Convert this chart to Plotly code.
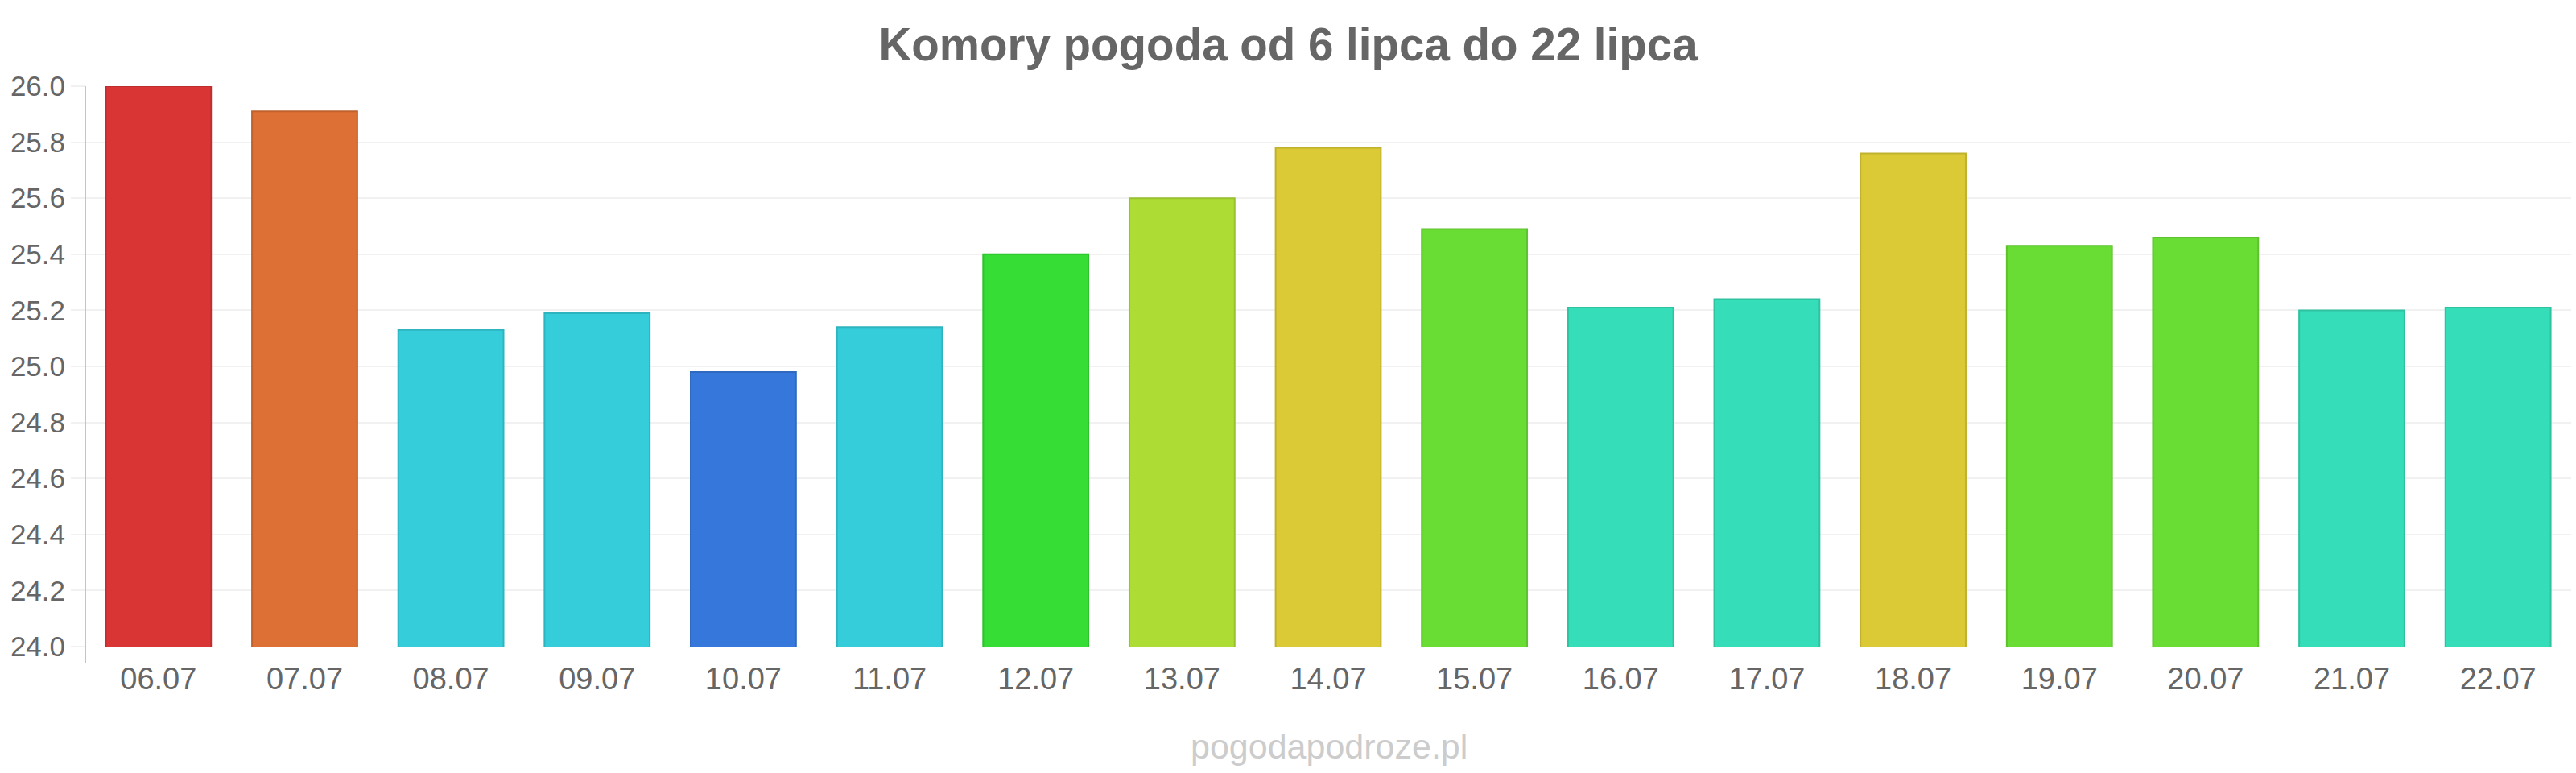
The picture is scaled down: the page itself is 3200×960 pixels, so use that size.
import plotly.graph_objects as go

# ---- data ----
dates = ["06.07", "07.07", "08.07", "09.07", "10.07", "11.07", "12.07", "13.07", "14.07",
         "15.07", "16.07", "17.07", "18.07", "19.07", "20.07", "21.07", "22.07"]
temps = [26.0, 25.91, 25.13, 25.19, 24.98, 25.14, 25.40, 25.60, 25.78,
         25.49, 25.21, 25.24, 25.76, 25.43, 25.46, 25.20, 25.21]
title_text = "Komory pogoda od 6 lipca do 22 lipca"
watermark = "pogodapodroze.pl"
y_range = [24.0, 26.0]

# ---- styles ----
fill_colors = ["#DA3535", "#DC7035", "#35CDDA", "#35CDDA", "#3677DC", "#35CDDA", "#35DD35",
               "#ADDC35", "#DBCA35", "#6ADD35", "#35DDB8", "#35DDB8", "#DBCA35", "#6ADD35",
               "#6ADD35", "#35DDB8", "#35DDB8"]


def darker(hex_color, f=0.88):
    h = hex_color.lstrip("#")
    r, g, b = (int(h[i:i + 2], 16) for i in (0, 2, 4))
    return "#%02x%02x%02x" % (int(r * f), int(g * f), int(b * f))


line_colors = [darker(c) for c in fill_colors]
FONT = "Liberation Sans, Arial, Helvetica, sans-serif"
TXT = "#666666"
GRID = "#f1f1f1"

L, R, T, B = 106, 6, 107, 157
PW = 3200 - L - R
PH = 960 - T - B

fig = go.Figure(
    go.Bar(
        x=dates,
        y=temps,
        marker=dict(color=fill_colors, line=dict(color=line_colors, width=2)),
        hovertemplate="%{x}: %{y:.1f}<extra></extra>",
    )
)

fig.update_layout(
    width=3200,
    height=960,
    margin=dict(l=L, r=R, t=T, b=B),
    paper_bgcolor="white",
    plot_bgcolor="white",
    bargap=0.28,
    showlegend=False,
    font=dict(family=FONT, color=TXT),
    title=dict(
        text=title_text,
        x=0.5,
        xanchor="center",
        y=1 - 55 / 960,
        yanchor="middle",
        font=dict(family=FONT, size=56.5, color=TXT, weight="bold"),
    ),
    xaxis=dict(
        showline=False,
        showgrid=False,
        zeroline=False,
        ticks="",
        tickfont=dict(family=FONT, size=38, color=TXT),
        ticklabelstandoff=14,
    ),
    yaxis=dict(
        range=y_range,
        dtick=0.2,
        tick0=24.0,
        tickformat=".1f",
        showgrid=True,
        gridcolor=GRID,
        gridwidth=2,
        zeroline=False,
        showline=False,
        ticks="outside",
        ticklen=17,
        tickwidth=2,
        tickcolor=GRID,
        tickfont=dict(family=FONT, size=35, color=TXT),
    ),
    shapes=[
        dict(
            type="line",
            xref="paper",
            yref="paper",
            x0=0,
            x1=0,
            y0=-20 / PH,
            y1=1,
            line=dict(color="#c4c4c4", width=2),
            layer="above",
        )
    ],
    annotations=[
        dict(
            text=watermark,
            xref="paper",
            yref="paper",
            x=(1651 - L) / PW,
            y=(803 - 927) / PH,
            xanchor="center",
            yanchor="middle",
            showarrow=False,
            font=dict(family=FONT, size=43, color="#cccccc"),
        )
    ],
)

fig.write_html("out.html")
